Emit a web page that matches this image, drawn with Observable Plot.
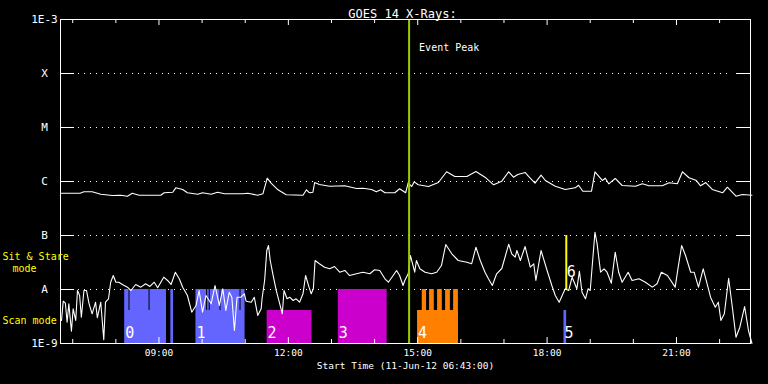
<!DOCTYPE html>
<html><head><meta charset="utf-8">
<script src="https://cdn.jsdelivr.net/npm/d3@7"></script>
<script src="https://cdn.jsdelivr.net/npm/@observablehq/plot@0.6"></script>
<style>
html,body{margin:0;padding:0;background:#000;}
#chart svg{display:block;}
</style>
</head><body><div id="chart"></div>
<script>
// ---- Data (times in UT decimal hours on 11-Jun-2012, flux as log10 W/m^2) ----
const longHours = [6.74,7.17,7.26,7.45,7.65,7.92,8.11,8.27,8.38,8.54,9.04,9.12,9.32,9.39,9.55,9.66,9.90,10.01,10.21,10.36,10.52,10.94,11.06,11.29,11.41,11.51,11.60,11.76,11.95,12.34,12.42,12.49,12.57,12.61,12.72,12.96,13.31,13.58,13.73,13.93,14.04,14.14,14.24,14.47,14.58,14.72,14.78,
14.86,14.92,15.01,15.25,15.48,15.67,15.86,16.14,16.35,16.56,16.76,16.95,17.11,17.22,17.32,17.49,17.57,17.72,17.86,17.96,18.19,18.42,18.65,18.73,18.83,19.03,19.11,19.28,19.35,19.43,19.58,19.74,20.05,20.21,20.36,20.67,20.83,21.02,21.14,21.29,21.45,21.56,21.68,21.83,22.07,22.18,22.38,22.53,22.75];
const longLog = [-6.217,-6.217,-6.191,-6.191,-6.235,-6.259,-6.254,-6.272,-6.217,-6.254,-6.254,-6.209,-6.198,-6.117,-6.148,-6.209,-6.235,-6.209,-6.235,-6.198,-6.228,-6.228,-6.217,-6.254,-6.228,-5.939,-6.031,-6.154,-6.246,-6.254,-6.154,-6.209,-6.198,-6.019,-6.056,-6.087,-6.080,-6.130,-6.124,-6.148,-6.191,-6.154,-6.209,-6.209,-6.135,-6.209,-6.019,
-6.093,-6.006,-6.061,-6.093,-6.019,-5.820,-5.907,-5.907,-5.815,-5.920,-6.061,-5.994,-5.820,-5.920,-5.870,-5.833,-5.907,-6.031,-5.883,-5.981,-6.087,-6.148,-6.117,-6.069,-6.180,-6.180,-5.820,-5.981,-5.939,-6.043,-5.944,-6.074,-6.087,-6.043,-6.080,-6.080,-6.024,-6.043,-5.820,-5.931,-5.976,-6.080,-6.019,-6.148,-6.209,-6.106,-6.272,-6.241,-6.254];

const shortHours = [6.74,6.78,6.83,6.87,6.91,6.97,7.01,7.07,7.11,7.16,
7.20,7.26,7.32,7.38,7.45,7.53,7.57,7.65,7.72,7.76,
7.83,7.88,7.94,8.00,8.07,8.15,8.27,8.35,8.46,8.58,
8.69,8.79,8.89,8.97,9.11,9.20,9.28,9.38,9.47,9.55,
9.66,9.76,9.86,9.93,10.01,10.09,10.21,10.30,10.40,10.48,
10.55,10.63,10.69,10.75,10.81,10.90,10.98,11.02,11.14,11.21,
11.29,11.37,11.39,11.45,11.50,11.54,11.58,11.64,11.72,11.79,
11.86,11.90,11.97,12.03,12.11,12.18,12.26,12.34,12.40,12.48,
12.53,12.58,12.62,12.72,12.84,12.96,13.07,13.19,13.31,13.42,
13.58,13.73,13.89,14.00,14.12,14.24,14.32,14.43,14.51,14.58,
14.66,14.70,14.78,14.83,14.93,14.97,15.05,15.17,15.32,15.44,
15.55,15.65,15.79,15.94,16.14,16.25,16.35,16.45,16.56,16.64,
16.73,16.83,16.95,17.11,17.18,17.26,17.30,17.38,17.49,17.61,
17.69,17.74,17.86,18.00,18.11,18.19,18.28,18.42,18.50,18.58,
18.69,18.75,18.81,18.89,18.95,19.00,19.11,19.16,19.24,19.32,
19.39,19.49,19.58,19.66,19.74,19.88,19.97,20.13,20.28,20.44,
20.55,20.65,20.79,20.97,21.04,21.12,21.21,21.33,21.41,21.51,
21.62,21.69,21.79,21.90,21.97,22.03,22.11,22.21,22.30,22.38,
22.47,22.58,22.67,22.75];
const shortLog = [-8.574,-8.217,-8.254,-8.606,-8.265,-8.772,-8.357,-8.574,-8.019,-8.111,
-8.513,-8.019,-8.019,-8.265,-8.450,-8.235,-8.524,-8.235,-8.931,-8.235,
-8.172,-7.865,-7.741,-7.865,-7.865,-7.907,-7.957,-8.019,-7.907,-7.957,
-7.894,-7.944,-7.865,-7.969,-7.772,-7.833,-7.907,-7.680,-7.802,-7.957,
-8.111,-8.420,-8.296,-8.019,-8.420,-8.111,-8.265,-7.926,-8.296,-7.987,
-8.389,-8.050,-8.143,-8.759,-8.143,-8.143,-8.080,-8.217,-8.235,-8.143,
-8.481,-8.357,-8.172,-7.833,-7.278,-7.185,-7.463,-7.709,-8.019,-8.235,
-8.450,-8.019,-8.172,-8.143,-8.204,-8.172,-8.235,-8.080,-7.741,-7.957,
-8.080,-7.987,-7.463,-7.524,-7.587,-7.617,-7.574,-7.680,-7.648,-7.741,
-7.709,-7.680,-7.709,-7.635,-7.648,-7.802,-7.865,-7.741,-7.648,-7.741,
-7.926,-7.833,-7.709,-7.370,-7.680,-7.463,-7.617,-7.680,-7.709,-7.680,
-7.556,-7.167,-7.339,-7.463,-7.494,-7.524,-7.217,-7.463,-7.680,-7.802,
-7.926,-7.709,-7.611,-7.161,-7.339,-7.402,-7.278,-7.463,-7.204,-7.587,
-7.524,-7.833,-7.278,-7.648,-7.926,-8.111,-8.235,-7.987,-8.019,-7.772,
-7.987,-7.661,-8.050,-8.172,-7.987,-8.019,-6.939,-7.154,-7.680,-7.617,
-7.680,-7.883,-7.309,-7.680,-7.865,-7.680,-7.833,-7.802,-7.865,-7.957,
-7.894,-7.680,-7.741,-7.957,-7.587,-7.185,-7.370,-7.680,-7.680,-7.957,
-7.617,-7.833,-8.143,-8.328,-8.235,-8.574,-8.450,-7.791,-8.357,-8.883,
-8.698,-8.315,-8.759,-9.000];

// Observation blocks (scan mode bars), log10 top level; bottom is 1E-9
const segObs   = [0, 0, 1, 2, 3, 4, 4, 4, 4, 4, 4, 5];
const segStart = [8.205, 9.275, 9.857, 11.508, 13.159, 14.996, 15.105, 15.275, 15.461, 15.647, 15.833, 18.391];
const segEnd   = [9.175, 9.338, 10.996, 12.547, 14.291, 15.943, 15.205, 15.384, 15.570, 15.757, 15.943, 18.454];
const segTop   = [-8, -8, -8, -8.389, -8, -8.389, -8, -8, -8, -8, -8, -8.389];
const gapHours = [8.305, 8.770, 10.105, 10.166, 10.415, 10.880];
const gapBottom = -8.389;

const obsNames = ["0", "1", "2", "3", "4", "5", "6"];
const obsStart = [8.205, 9.857, 11.508, 13.159, 14.996, 18.391, 18.445];
const obsMode  = ["scan", "scan", "scan", "scan", "scan", "scan", "sit"];
const sitStare = {hour: 18.445, low: -8, high: -7};

const eventPeakHour = 14.80;
const startHour = 6 + 43/60, endHour = 22 + 43/60;

const levelValues = [1e-9, 1e-8, 1e-7, 1e-6, 1e-5, 1e-4, 1e-3];
const levelLabels = ["1E-9", "A", "B", "C", "M", "X", "1E-3"];
const gridValues = [1e-8, 1e-7, 1e-6, 1e-5, 1e-4];
const hourTicks = [7,8,9,10,11,12,13,14,15,16,17,18,19,20,21,22];
const labelHours = [9, 12, 15, 18, 21];
const labelTexts = ["09:00", "12:00", "15:00", "18:00", "21:00"];

// ---- Styles ----
const obsColor = ["#6464ff", "#6464ff", "#cc00cc", "#cc00cc", "#ff8000", "#6464ff", "#ffff00"];
const day = Date.UTC(2012, 5, 11);
const toDate = h => new Date(day + h * 3600000);

const longRows = longHours.map((h, i) => ({t: toDate(h), f: 10 ** longLog[i]}));
const shortRows = shortHours.map((h, i) => ({t: toDate(h), f: 10 ** shortLog[i]}));
const segRows = segStart.map((s, i) => ({x1: toDate(s), x2: toDate(segEnd[i]), top: 10 ** segTop[i], c: obsColor[segObs[i]]}));
const levels = levelValues.map((v, i) => ({v, label: levelLabels[i]}));
const obsRows = obsNames.map((n, i) => ({n, t: toDate(obsStart[i]), mode: obsMode[i]}));
const minorTicks = hourTicks.filter(h => !labelHours.includes(h));

const innerH = 384 - 19 - 41;
const innerW = 768 - 60 - 18;

const plot = Plot.plot({
  width: 768, height: 384,
  marginLeft: 60, marginRight: 18, marginTop: 19, marginBottom: 41,
  style: {background: "black", color: "white", fontFamily: "'DejaVu Sans Mono', monospace", overflow: "visible"},
  x: {type: "utc", domain: [toDate(startHour), toDate(endHour)], axis: null},
  y: {type: "log", domain: [1e-9, 1e-3], axis: null},
  marks: [
    // dotted grid + solid end ticks
    Plot.tickY(gridValues, {y: d => d, stroke: "white", strokeDasharray: "1,5", insetLeft: 18, insetRight: 18}),
    Plot.tickY(gridValues, {y: d => d, stroke: "white", insetRight: innerW - 14}),
    Plot.tickY(gridValues, {y: d => d, stroke: "white", insetLeft: innerW - 14}),
    // observation bars
    Plot.rectY(segRows, {x1: "x1", x2: "x2", y1: 1e-9, y2: "top", fill: d => d.c}),
    Plot.ruleX(gapHours, {x: toDate, y1: 1e-8, y2: 10 ** gapBottom, stroke: "black", strokeWidth: 1}),
    Plot.ruleX([sitStare], {x: d => toDate(d.hour), y1: d => 10 ** d.low, y2: d => 10 ** d.high, stroke: obsColor[6], strokeWidth: 2}),
    // light curves
    Plot.line(longRows, {x: "t", y: "f", stroke: "white", strokeWidth: 1.1}),
    Plot.line(shortRows, {x: "t", y: "f", stroke: "white", strokeWidth: 1.1}),
    // event peak
    Plot.ruleX([eventPeakHour], {x: toDate, stroke: "#99cc00", strokeWidth: 2}),
    Plot.text(["Event Peak"], {x: () => toDate(eventPeakHour), frameAnchor: "top", dy: 24, dx: 10, textAnchor: "start", fontSize: 10, fill: "white"}),
    // frame and x ticks
    Plot.frame({stroke: "white"}),
    Plot.tickX(minorTicks, {x: toDate, stroke: "white", insetTop: innerH - 4}),
    Plot.tickX(labelHours, {x: toDate, stroke: "white", insetTop: innerH - 6}),
    Plot.tickX(minorTicks, {x: toDate, stroke: "white", insetBottom: innerH - 4}),
    Plot.tickX(labelHours, {x: toDate, stroke: "white", insetBottom: innerH - 6}),
    // obs labels
    Plot.text(obsRows.filter(d => d.mode === "scan"), {x: "t", y: 1e-9, text: "n", dx: 5, dy: -10.5, fontSize: 15, fill: "white"}),
    Plot.text(obsRows.filter(d => d.mode === "sit"), {x: "t", y: 1e-8, text: "n", dx: 5, dy: -17, fontSize: 15, fill: "white"}),
    // axis labels
    Plot.text(levels, {y: "v", text: "label", frameAnchor: "left", dx: -16, textAnchor: "middle", fontSize: 11, fill: "white"}),
    Plot.text(labelHours, {x: toDate, text: (d, i) => labelTexts[i], frameAnchor: "bottom", dy: 12, fontSize: 9.5, fill: "white"}),
    Plot.text(["Start Time (11-Jun-12 06:43:00)"], {frameAnchor: "bottom", dy: 25, fontSize: 9.5, fill: "white"}),
    Plot.text(["GOES 14 X-Rays:"], {frameAnchor: "top", dy: -10, dx: -3, fontSize: 12, fill: "white"}),
    Plot.text(["Sit & Stare"], {frameAnchor: "bottom-left", dx: -58, dy: -84, textAnchor: "start", fontSize: 10, fill: "#ffff00"}),
    Plot.text(["mode"], {frameAnchor: "bottom-left", dx: -48, dy: -72, textAnchor: "start", fontSize: 10, fill: "#ffff00"}),
    Plot.text(["Scan mode"], {frameAnchor: "bottom-left", dx: -58, dy: -19.5, textAnchor: "start", fontSize: 10, fill: "#ffff00"})
  ]
});
document.getElementById("chart").appendChild(plot);
</script>
</body></html>
